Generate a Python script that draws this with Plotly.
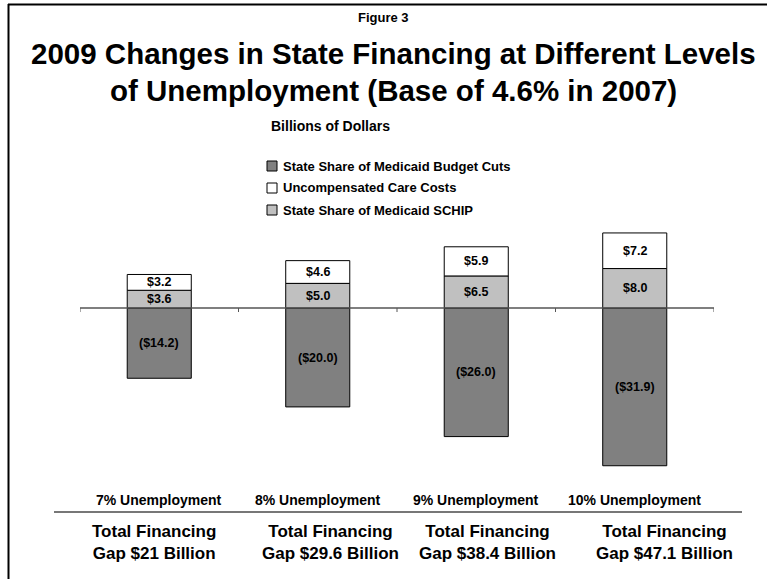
import plotly.graph_objects as go

# ---- data ----
categories = ["7% Unemployment", "8% Unemployment", "9% Unemployment", "10% Unemployment"]
gap_labels = ["Total Financing<br>Gap $21 Billion", "Total Financing<br>Gap $29.6 Billion",
              "Total Financing<br>Gap $38.4 Billion", "Total Financing<br>Gap $47.1 Billion"]
budget_cuts = [-14.2, -20.0, -26.0, -31.9]
schip = [3.6, 5.0, 6.5, 8.0]
uncompensated = [3.2, 4.6, 5.9, 7.2]
series_names = ["State Share of Medicaid Budget Cuts", "Uncompensated Care Costs",
                "State Share of Medicaid SCHIP"]

# ---- layout geometry (pixels) ----
W, H = 767, 579
ML, MR, MT, MB = 80, 53, 229, 93
PW, PH = W - ML - MR, H - MT - MB
FONT = "Liberation Sans, Arial, sans-serif"

def pxx(x):
    return (x - ML) / PW

def pxy(y):
    return (H - MB - y) / PH

C_DARK, C_LIGHT, C_WHITE = "#808080", "#c0c0c0", "#ffffff"
xs = list(range(len(categories)))
BW = 0.404

fig = go.Figure()
fig.add_trace(go.Bar(x=xs, y=budget_cuts, width=BW, name=series_names[0],
                     marker=dict(color=C_DARK, line=dict(color="black", width=1))))
fig.add_trace(go.Bar(x=xs, y=schip, width=BW, name=series_names[2],
                     marker=dict(color=C_LIGHT, line=dict(color="black", width=1))))
fig.add_trace(go.Bar(x=xs, y=uncompensated, width=BW, name=series_names[1],
                     marker=dict(color=C_WHITE, line=dict(color="black", width=1))))

annotations = []
shapes = []

def ann(x, y, text, size, xref="paper", yref="paper", xanchor="center"):
    annotations.append(dict(x=x, y=y, xref=xref, yref=yref, text=text, showarrow=False,
                            xanchor=xanchor, yanchor="middle",
                            font=dict(family=FONT, size=size, color="black")))

# value labels centered in segments
for i in xs:
    c, s, u = budget_cuts[i], schip[i], uncompensated[i]
    ann(i, c / 2, f"<b>(${abs(c):.1f})</b>", 12.5, "x", "y")
    ann(i, s / 2, f"<b>${s:.1f}</b>", 12.5, "x", "y")
    ann(i, s + u / 2, f"<b>${u:.1f}</b>", 12.5, "x", "y")

# zero axis line and ticks
shapes.append(dict(type="line", xref="x", yref="y", x0=-0.5, x1=len(xs) - 0.5, y0=0, y1=0,
                   line=dict(color="#555555", width=1.5), layer="above"))
for b in [i - 0.5 for i in range(len(xs) + 1)]:
    shapes.append(dict(type="line", xref="x", yref="y", x0=b, x1=b, y0=0, y1=-0.8,
                       line=dict(color="#555555", width=1)))

# frame border (top and left)
shapes.append(dict(type="line", xref="paper", yref="paper", x0=pxx(8), x1=pxx(767),
                   y0=pxy(4.5), y1=pxy(4.5), line=dict(color="black", width=2)))
shapes.append(dict(type="line", xref="paper", yref="paper", x0=pxx(8.5), x1=pxx(8.5),
                   y0=pxy(4), y1=pxy(579), line=dict(color="black", width=2)))

# titles
ann(pxx(383), pxy(17), "<b>Figure 3</b>", 13)
ann(pxx(393), pxy(53), "<b>2009 Changes in State Financing at Different Levels</b>", 29.5)
ann(pxx(393), pxy(91), "<b>of Unemployment (Base of 4.6% in 2007)</b>", 29.5)
ann(pxx(330), pxy(126), "<b>Billions of Dollars</b>", 14)

# manual legend
leg_rows = [(series_names[0], C_DARK, 166), (series_names[1], C_WHITE, 188),
            (series_names[2], C_LIGHT, 210)]
for name, col, yy in leg_rows:
    shapes.append(dict(type="rect", xref="paper", yref="paper", x0=pxx(267), x1=pxx(277),
                       y0=pxy(yy - 5), y1=pxy(yy + 5), fillcolor=col,
                       line=dict(color="black", width=1)))
    ann(pxx(281), pxy(yy), f"<b>{name}</b>", 13, xanchor="left")

# category labels, separator, totals
cat_centers = [ML + PW * (i + 0.5) / len(xs) for i in xs]
gap_centers = [154, 330, 487, 664]
for i in xs:
    ann(pxx(cat_centers[i]), pxy(500), f"<b>{categories[i]}</b>", 14)
    ann(pxx(gap_centers[i]), pxy(542), f"<b>{gap_labels[i]}</b>", 17)
shapes.append(dict(type="line", xref="paper", yref="paper", x0=pxx(54), x1=pxx(742),
                   y0=pxy(512), y1=pxy(512), line=dict(color="#777777", width=2)))

fig.update_layout(
    width=W, height=H, margin=dict(l=ML, r=MR, t=MT, b=MB, pad=0),
    barmode="relative", showlegend=False,
    paper_bgcolor="white", plot_bgcolor="white",
    xaxis=dict(visible=False, range=[-0.5, len(xs) - 0.5]),
    yaxis=dict(visible=False, range=[-36, 16]),
    annotations=annotations, shapes=shapes,
)

fig.write_html("out.html")
